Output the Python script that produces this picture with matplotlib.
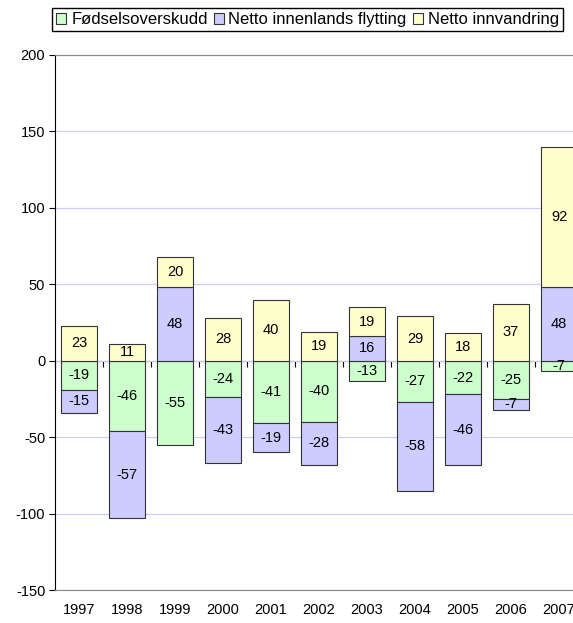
import matplotlib.pyplot as plt
from matplotlib.patches import Patch
import numpy as np

plt.rcParams['font.family'] = ['Liberation Sans', 'DejaVu Sans']
plt.rcParams['axes.unicode_minus'] = False

years = ['1997', '1998', '1999', '2000', '2001', '2002', '2003', '2004', '2005', '2006', '2007']
fodsel = [-19, -46, -55, -24, -41, -40, -13, -27, -22, -25, -7]
innenlands = [-15, -57, 48, -43, -19, -28, 16, -58, -46, -7, 48]
innvandring = [23, 11, 20, 28, 40, 19, 19, 29, 18, 37, 92]

names = ['Fødselsoverskudd', 'Netto innenlands flytting', 'Netto innvandring']
colors = ['#CCFFCC', '#CCCCFF', '#FFFFCC']

fig = plt.figure(figsize=(5.73, 6.23), dpi=100)
# plot area runs past the right edge, like the original
ax = fig.add_axes([55 / 573, 33 / 623, 528 / 573, 535 / 623])

x = np.arange(len(years))
pos_base = np.zeros(len(years))
neg_base = np.zeros(len(years))

for vals, col in zip([fodsel, innenlands, innvandring], colors):
    v = np.array(vals, dtype=float)
    bottom = np.where(v >= 0, pos_base, neg_base)
    bars = ax.bar(x, v, 0.75, bottom=bottom, color=col, edgecolor='#333333', linewidth=0.8, zorder=3)
    for b, val, bt in zip(bars, v, bottom):
        ax.text(b.get_x() + b.get_width() / 2, bt + val / 2, f'{int(val)}',
                ha='center', va='center', fontsize=10.5, zorder=4)
    pos_base = pos_base + np.where(v >= 0, v, 0)
    neg_base = neg_base + np.where(v < 0, v, 0)

ax.set_xlim(-0.5, len(years) - 0.5)
ax.set_ylim(-150, 200)
ax.set_yticks(range(-150, 201, 50))
ax.set_xticks(x)
ax.set_xticklabels(years)
ax.tick_params(axis='x', length=0, pad=9, labelsize=10.5)
ax.tick_params(axis='y', length=4, width=0.8, color='black', labelsize=10.5, pad=3)

ax.grid(axis='y', color='#CCCCF5', linewidth=0.9, zorder=0)
for s in ['top', 'bottom']:
    ax.spines[s].set_color('#888888')
ax.spines['right'].set_visible(False)
ax.spines['left'].set_color('black')

# category axis crossing at zero
sec = ax.secondary_xaxis(150 / 350)
sec.set_xticks(np.arange(len(years) + 1) - 0.5)
sec.set_xticklabels([])
sec.tick_params(length=4, width=0.8, direction='out')
sec.spines['bottom'].set_color('black')

handles = [Patch(facecolor=c, edgecolor='#333333', linewidth=0.8) for c in colors]
fig.legend(handles, names, loc='upper left', bbox_to_anchor=(52 / 573, 1 - 8 / 623), ncol=3,
           fontsize=12, frameon=True, fancybox=False, edgecolor='black', framealpha=1,
           handlelength=0.6, handleheight=0.6, handletextpad=0.3, columnspacing=0.35,
           borderpad=0.25, borderaxespad=0)

plt.savefig('out.png', dpi=100)
plt.close()
